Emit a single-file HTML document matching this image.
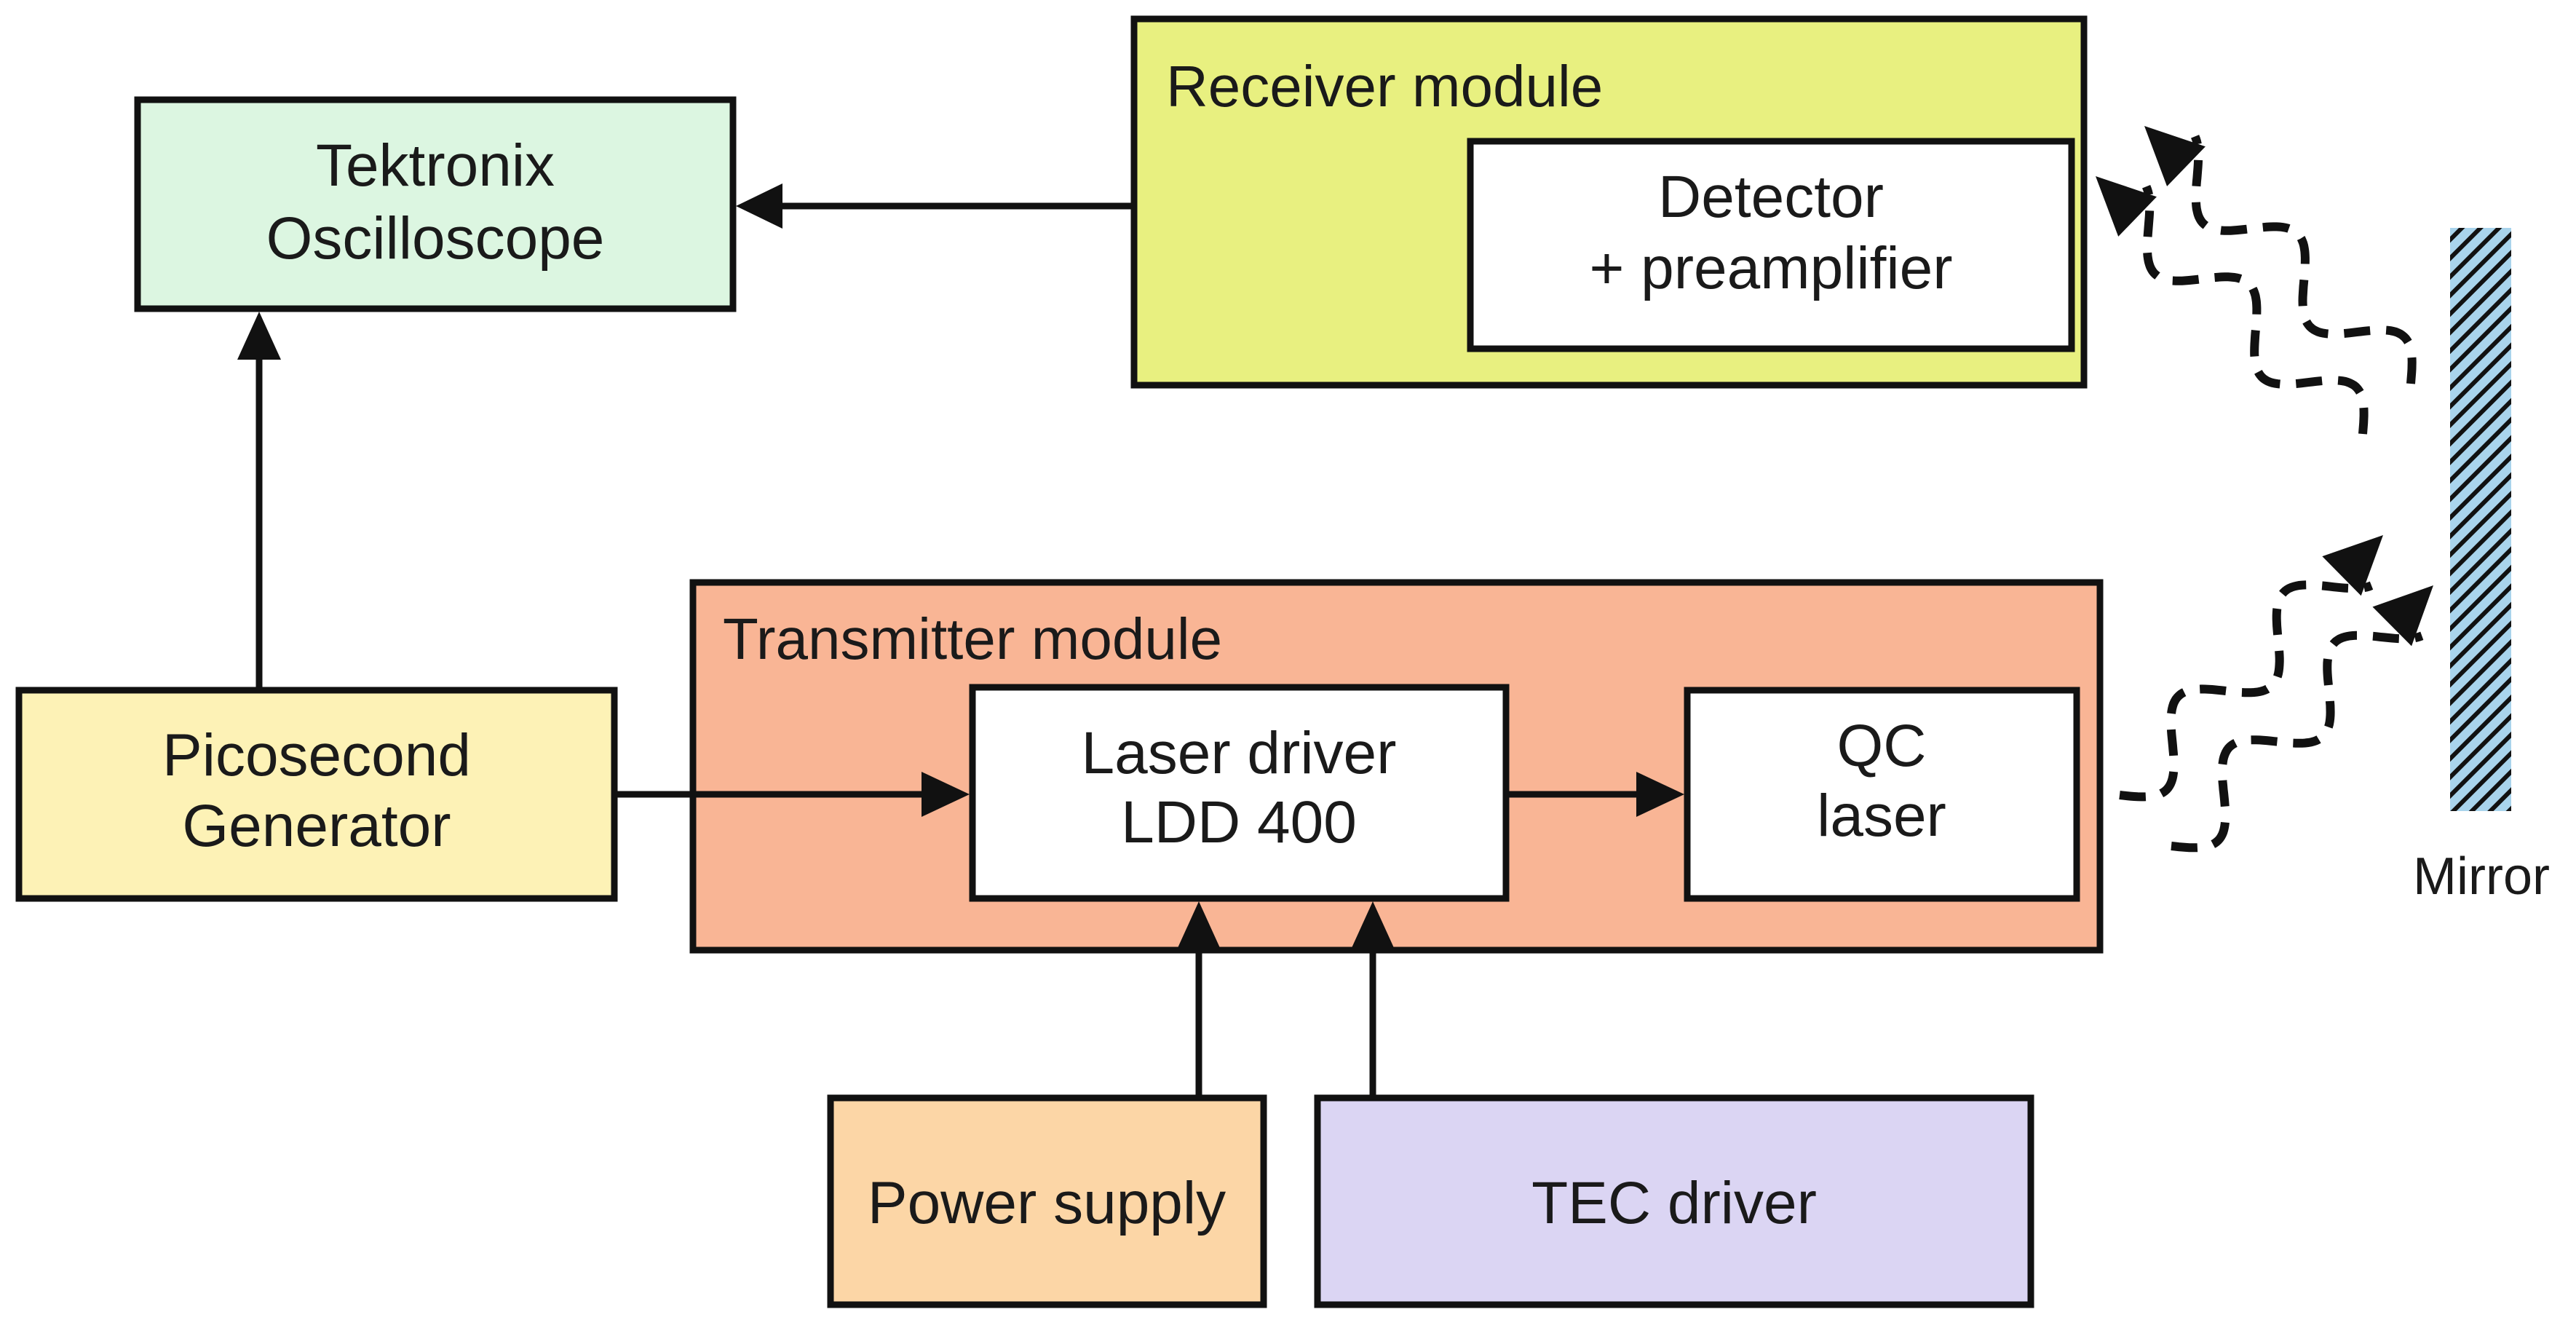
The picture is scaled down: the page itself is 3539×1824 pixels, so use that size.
<!DOCTYPE html>
<html><head><meta charset="utf-8"><style>
html,body{margin:0;padding:0;background:#fff;}
svg{display:block;}
text{font-family:"Liberation Sans",Arial,sans-serif;fill:#1a1a1a;}
</style></head><body>
<svg width="3539" height="1824" viewBox="0 0 3539 1824" xmlns="http://www.w3.org/2000/svg">
<defs>
<pattern id="hatch" patternUnits="userSpaceOnUse" width="18" height="18" patternTransform="rotate(-45)">
<rect width="18" height="18" fill="#a9d4ec"/>
<rect y="0" width="18" height="6" fill="#111"/>
</pattern>
</defs>
<g stroke="#111" stroke-width="9">
<rect x="189" y="137" width="818" height="287" fill="#dcf6e1"/>
<rect x="1558" y="26" width="1305" height="503" fill="#e8f080"/>
<rect x="2020" y="194" width="826" height="285" fill="#fff"/>
<rect x="952" y="800" width="1933" height="505" fill="#f9b595"/>
<rect x="26" y="948" width="818" height="286" fill="#fdf2b6"/>
<rect x="1336" y="944" width="733" height="290" fill="#fff"/>
<rect x="2318" y="948" width="535" height="286" fill="#fff"/>
<rect x="1141" y="1508" width="595" height="284" fill="#fcd6a6"/>
<rect x="1810" y="1508" width="980" height="284" fill="#dbd5f3"/>
</g>
<rect x="3366" y="313" width="84" height="801" fill="url(#hatch)"/>
<g stroke="#111" stroke-width="9">
<line x1="1558" y1="283" x2="1060" y2="283"/>
<line x1="356" y1="948" x2="356" y2="480"/>
<line x1="844" y1="1091" x2="1280" y2="1091"/>
<line x1="2069" y1="1091" x2="2262" y2="1091"/>
<line x1="1647" y1="1508" x2="1647" y2="1295"/>
<line x1="1886" y1="1508" x2="1886" y2="1295"/>
</g>
<g fill="#111">
<polygon points="1011,283 1075,252 1075,314"/>
<polygon points="356,428 326,494 386,494"/>
<polygon points="1332,1091 1266,1060 1266,1122"/>
<polygon points="2314,1091 2248,1060 2248,1122"/>
<polygon points="1647,1238 1617,1304 1677,1304"/>
<polygon points="1886,1238 1856,1304 1916,1304"/>
</g>
<g id="waves" fill="none" stroke="#111" stroke-width="12" stroke-dasharray="36 22"></g>
<g id="heads" fill="#111"></g>
<g font-size="82" text-anchor="middle">
<text x="598" y="255">Tektronix</text>
<text x="598" y="355">Oscilloscope</text>
<text x="2433" y="298">Detector</text>
<text x="2433" y="396">+ preamplifier</text>
<text x="435" y="1065">Picosecond</text>
<text x="435" y="1162">Generator</text>
<text x="1702" y="1062">Laser driver</text>
<text x="1702" y="1157">LDD 400</text>
<text x="2585" y="1052">QC</text>
<text x="2585" y="1148">laser</text>
<text x="1438" y="1680">Power supply</text>
<text x="2300" y="1680">TEC driver</text>
<text x="3409" y="1228" font-size="72">Mirror</text>
</g>
<g font-size="80">
<text x="1602" y="146">Receiver module</text>
<text x="993" y="905">Transmitter module</text>
</g>
</svg>
<script>
(function(){
var ns="http://www.w3.org/2000/svg";
var W=document.getElementById("waves"),H=document.getElementById("heads");
function wave(x0,y0,x1,y1){
 var dx=x1-x0,dy=y1-y0,L=Math.hypot(dx,dy),ux=dx/L,uy=dy/L,nx=-uy,ny=ux;
 var d="",N=140,amp=40,per=2.2;
 var Lw=L-60;
 for(var i=0;i<=N;i++){var t=i/N*Lw;var s=Math.sin(t/Lw*per*2*Math.PI)*amp;
  var x=x0+ux*t+nx*s,y=y0+uy*t+ny*s;d+=(i?"L":"M")+x.toFixed(1)+","+y.toFixed(1);}
 var p=document.createElementNS(ns,"path");p.setAttribute("d",d);W.appendChild(p);
 var bx=x1-ux*80,by=y1-uy*80;
 var pts=[x1,y1,bx+nx*38,by+ny*38,bx-nx*38,by-ny*38];
 var g=document.createElementNS(ns,"polygon");g.setAttribute("points",pts.join(" "));H.appendChild(g);
}
wave(3312,527,2946,173);
wave(3246,596,2879,242);
wave(2912,1092,3274,735);
wave(2983,1162,3343,804);
})();
</script>
</body></html>
